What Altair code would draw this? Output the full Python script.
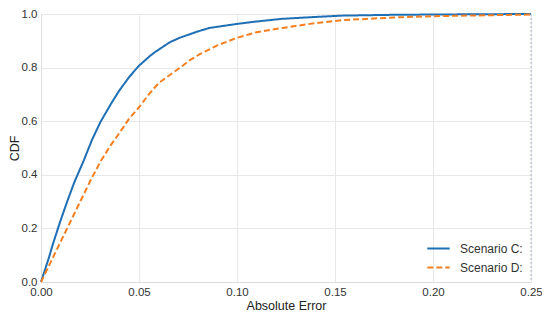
import altair as alt
import pandas as pd

x_c = [0.000, 0.002, 0.004, 0.006, 0.008, 0.010, 0.0135, 0.017, 0.0219, 0.026, 0.0304,
       0.0363, 0.040, 0.045, 0.050, 0.0557, 0.058, 0.0658, 0.071, 0.080, 0.086, 0.100,
       0.110, 0.123, 0.140, 0.154, 0.180, 0.220, 0.250]
y_c = [0.0, 0.045, 0.09, 0.14, 0.185, 0.23, 0.303, 0.372, 0.455, 0.53, 0.598,
       0.672, 0.715, 0.765, 0.807, 0.844, 0.857, 0.895, 0.912, 0.935, 0.948, 0.963,
       0.972, 0.982, 0.989, 0.994, 0.997, 0.999, 1.0]

x_d = [0.000, 0.005, 0.010, 0.015, 0.0202, 0.025, 0.0304, 0.0355, 0.0405, 0.045, 0.050,
       0.055, 0.060, 0.0675, 0.071, 0.076, 0.081, 0.090, 0.100, 0.110, 0.123, 0.140,
       0.154, 0.180, 0.200, 0.250]
y_d = [0.0, 0.075, 0.15, 0.225, 0.303, 0.375, 0.45, 0.51, 0.561, 0.61, 0.652,
       0.70, 0.742, 0.782, 0.80, 0.828, 0.85, 0.883, 0.911, 0.932, 0.948, 0.966,
       0.977, 0.987, 0.992, 0.998]

series = ["Scenario C:", "Scenario D:"]
colors = ["#1f6fb5", "#f57f20"]

df = pd.concat([
    pd.DataFrame({"x": x_c, "y": y_c, "s": series[0], "o": range(len(x_c))}),
    pd.DataFrame({"x": x_d, "y": y_d, "s": series[1], "o": range(len(x_d))}),
])

font = "Liberation Sans"

lines = alt.Chart(df).mark_line(strokeWidth=2).encode(
    x=alt.X("x:Q", title="Absolute Error",
            scale=alt.Scale(domain=[0, 0.25], nice=False, zero=False),
            axis=alt.Axis(values=[0, 0.05, 0.1, 0.15, 0.2, 0.25], format=".2f")),
    y=alt.Y("y:Q", title="CDF", scale=alt.Scale(domain=[0, 1], nice=False),
            axis=alt.Axis(values=[0, 0.2, 0.4, 0.6, 0.8, 1.0], format=".1f")),
    color=alt.Color("s:N", scale=alt.Scale(domain=series, range=colors), title=None,
                    legend=alt.Legend(orient="bottom-right", symbolType="stroke",
                                      symbolSize=500, symbolStrokeWidth=2,
                                      labelFontSize=12, labelFont=font, labelColor="#333",
                                      rowPadding=-5, offset=8, labelOffset=9)),
    strokeDash=alt.StrokeDash("s:N", scale=alt.Scale(domain=series, range=[[1, 0], [6, 3]]),
                              title=None, legend=alt.Legend(orient="bottom-right")),
    order="o:Q",
)

rule = alt.Chart().mark_rule(color="#a8b4c8", strokeDash=[2, 2], strokeWidth=1).encode(
    x=alt.datum(0.25)
)

chart = alt.layer(lines, rule).properties(
    width=490, height=268,
    autosize=alt.AutoSizeParams(type="none"),
    padding={"left": 33, "top": 6, "right": 11, "bottom": 32},
).configure_view(stroke=None).configure_axis(
    grid=True, gridColor="#e8e8e8", domainColor="#dcdcdc", ticks=False, labelFlush=False,
    labelFont=font, labelFontSize=11.5, labelColor="#333",
    titleFont=font, titleFontSize=12.5, titleColor="#222", titleFontWeight="normal",
).configure_axisX(labelPadding=4, titlePadding=2).configure_axisY(labelPadding=4, titlePadding=0)

chart.save("out.html", embed_options={"renderer": "svg", "actions": False})
